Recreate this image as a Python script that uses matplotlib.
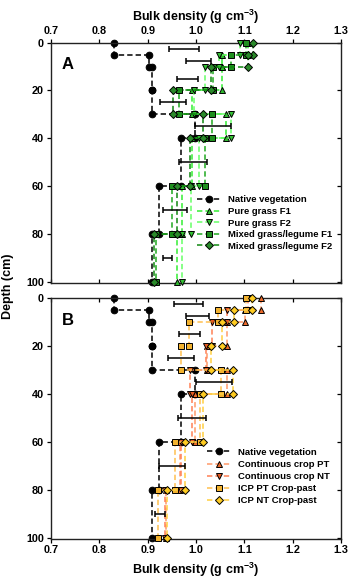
import matplotlib
matplotlib.use("Agg")
import numpy as np
import matplotlib.pyplot as plt
from matplotlib import lines as mlines

plt.rcParams["font.family"] = ["Liberation Sans", "DejaVu Sans"]
plt.rcParams["font.weight"] = "bold"
plt.rcParams["axes.labelweight"] = "bold"
plt.rcParams["mathtext.fontset"] = "custom"
plt.rcParams["mathtext.rm"] = "Liberation Sans:bold"
plt.rcParams["mathtext.it"] = "Liberation Sans:bold"
plt.rcParams["mathtext.bf"] = "Liberation Sans:bold"

# layer boundaries (cm)
depth_edges = [0, 5, 10, 20, 30, 40, 60, 80, 100]
lsd_depth = [2.5, 7.5, 15, 25, 35, 50, 70, 90]

# bulk density per layer (g cm-3)
native = [0.830, 0.903, 0.910, 0.910, 0.997, 0.968, 0.923, 0.908]

pure_f1 = [1.108, 1.054, 1.054, 0.991, 1.062, 0.992, 0.972, 0.960]
pure_f2 = [1.090, 1.048, 1.018, 0.996, 1.073, 1.006, 0.989, 0.972]
mixed_f1 = [1.103, 1.072, 1.036, 0.964, 1.033, 1.018, 0.951, 0.917]
mixed_f2 = [1.117, 1.108, 1.031, 0.953, 1.015, 0.987, 0.960, 0.913]

cc_pt = [1.135, 1.102, 1.065, 1.022, 1.064, 0.998, 0.966, 0.937]
cc_nt = [1.107, 1.064, 1.034, 1.020, 0.988, 0.991, 0.968, 0.935]
icp_pt = [1.103, 1.046, 0.986, 0.968, 1.051, 1.008, 0.956, 0.922]
icp_nt = [1.115, 1.078, 1.054, 1.032, 1.077, 1.015, 0.977, 0.939]

# LSD bars: centre and full width
lsd_mid_a = [0.975, 1.0055, 0.982, 0.952, 1.0355, 0.9935, 0.957, 0.9415]
lsd_a = [0.062, 0.051, 0.044, 0.054, 0.075, 0.057, 0.050, 0.019]
lsd_mid_b = [0.985, 1.003, 0.987, 0.9685, 1.037, 0.9915, 0.9505, 0.9255]
lsd_b = [0.060, 0.048, 0.044, 0.053, 0.076, 0.057, 0.053, 0.021]

xticks = [0.7, 0.8, 0.9, 1.0, 1.1, 1.2, 1.3]
yticks = [0, 20, 40, 60, 80, 100]


def step_xy(values):
    """Each layer drawn at its top and bottom depth."""
    x = np.repeat(values, 2)
    y = np.column_stack([depth_edges[:-1], depth_edges[1:]]).ravel()
    return x, y


def profile(ax, values, label, marker, line_c, face_c, ms=4.2, z=3):
    x, y = step_xy(values)
    ax.plot(x, y, ls=(0, (3.5, 2)), lw=1.1, color=line_c, marker=marker,
            ms=ms, mfc=face_c, mec="black", mew=0.7, label=label,
            clip_on=False, zorder=z)


def panel(ax, series, mids, widths, letter, top_labels):
    profile(ax, native, "Native vegetation", "o", "black", "black", ms=4.8, z=2)
    for vals, lab, m, lc, fc in series:
        profile(ax, vals, lab, m, lc, fc)
    ax.errorbar(mids, lsd_depth, xerr=np.array(widths) / 2, fmt="none",
                ecolor="black", elinewidth=1.1, capsize=2.2, capthick=1.1,
                zorder=4)

    ax.set_xlim(0.7, 1.3)
    ax.set_ylim(100.6, 0)
    ax.set_xticks(xticks)
    ax.set_yticks(yticks)
    ax.set_xticklabels([f"{t:.1f}" for t in xticks])

    # labelled sides: ticks out, plain sides: ticks in
    ax.tick_params(axis="y", left=True, right=True, labelsize=7.8,
                   length=3, width=0.9, pad=2, direction="out")
    for t in ax.yaxis.get_major_ticks():
        t.tick2line.set_marker(mlines.TICKLEFT)
    ax.tick_params(axis="x", top=True, bottom=True, labeltop=top_labels,
                   labelbottom=not top_labels, labelsize=7.8, length=3,
                   width=0.9, pad=1.5, direction="out")
    if top_labels:
        ax.xaxis.set_label_position("top")
        for t in ax.xaxis.get_major_ticks():
            t.tick1line.set_marker(mlines.TICKUP)
    else:
        for t in ax.xaxis.get_major_ticks():
            t.tick2line.set_marker(mlines.TICKDOWN)
    for lab in ax.get_xticklabels() + ax.get_yticklabels():
        lab.set_fontweight("bold")

    ax.set_xlabel(r"Bulk density (g cm$^{-3}$)", fontsize=9,
                  fontweight="bold", labelpad=4)
    for s in ax.spines.values():
        s.set_linewidth(1.0)
        s.set_color("#222222")

    ax.text(0.038, 0.94, letter, transform=ax.transAxes, fontsize=12,
            fontweight="bold", va="top", ha="left")


fig = plt.figure(figsize=(3.5, 5.85), dpi=100)
ax_a = fig.add_axes([0.1457, 0.5162, 0.8286, 0.4108])
ax_b = fig.add_axes([0.1457, 0.0786, 0.8286, 0.4115])

series_a = [
    (pure_f1, "Pure grass F1", "^", "#33ee33", "#2fb82f"),
    (pure_f2, "Pure grass F2", "v", "#66ff66", "#33c033"),
    (mixed_f1, "Mixed grass/legume F1", "s", "#1fa81f", "#1e8f1e"),
    (mixed_f2, "Mixed grass/legume F2", "D", "#118811", "#2a8a2a"),
]
series_b = [
    (cc_pt, "Continuous crop PT", "^", "#ff9a6a", "#ec6a2a"),
    (cc_nt, "Continuous crop NT", "v", "#ff8055", "#e35a22"),
    (icp_pt, "ICP PT Crop-past", "s", "#ffc050", "#f2b230"),
    (icp_nt, "ICP NT Crop-past", "D", "#ffd040", "#ffcc22"),
]

panel(ax_a, series_a, lsd_mid_a, lsd_a, "A", True)
panel(ax_b, series_b, lsd_mid_b, lsd_b, "B", False)

leg_font = {"size": 6.8, "weight": "bold"}
ax_a.legend(loc="upper left", bbox_to_anchor=(0.49, 0.38), frameon=False,
            prop=leg_font, handlelength=2.5, handletextpad=0.8,
            labelspacing=0.27, borderaxespad=0)
ax_b.legend(loc="upper left", bbox_to_anchor=(0.525, 0.395), frameon=False,
            prop=leg_font, handlelength=2.5, handletextpad=0.8,
            labelspacing=0.33, borderaxespad=0)

fig.text(0.022, 0.51, "Depth (cm)", rotation=90, va="center", ha="center",
         fontsize=9, fontweight="bold")

fig.savefig("out.png", dpi=100)
